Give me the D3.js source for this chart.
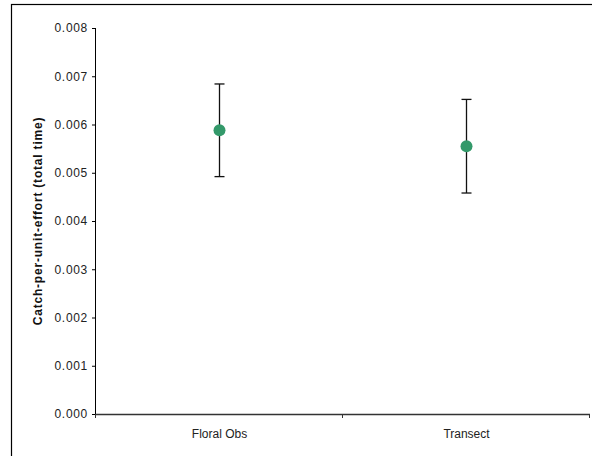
<!DOCTYPE html>
<html>
<head>
<meta charset="utf-8">
<script src="https://cdn.jsdelivr.net/npm/d3@7/dist/d3.min.js"></script>
<style>
  body { margin: 0; background: #fff; }
  svg { display: block; font-family: "Liberation Sans", Arial, sans-serif; }
</style>
</head>
<body>
<div id="chart-area"></div>
<script>
// data
const categories = ["Floral Obs", "Transect"]
const means = [0.00588, 0.00555]
const errors = [0.00096, 0.00097]
const yTicks = [0, 0.001, 0.002, 0.003, 0.004, 0.005, 0.006, 0.007, 0.008]

const MARGIN = { LEFT: 96, RIGHT: 2, TOP: 28, BOTTOM: 42 }
const WIDTH = 592 - MARGIN.LEFT - MARGIN.RIGHT
const HEIGHT = 456 - MARGIN.TOP - MARGIN.BOTTOM

const svg = d3.select("#chart-area").append("svg")
  .attr("width", 592)
  .attr("height", 456)

// outer frame (runs off the right and bottom edges)
svg.append("rect")
  .attr("x", 11.5)
  .attr("y", 4.5)
  .attr("width", 600)
  .attr("height", 500)
  .attr("fill", "none")
  .attr("stroke", "#000")
  .attr("stroke-width", 1.2)

const g = svg.append("g")
  .attr("transform", `translate(${MARGIN.LEFT}, ${MARGIN.TOP})`)

// Scales
const x = d3.scaleBand()
  .domain(categories)
  .range([0, WIDTH])
const y = d3.scaleLinear()
  .domain([0, 0.008])
  .range([HEIGHT, 0])

// Y Axis
const yAxisCall = d3.axisLeft(y)
  .tickValues(yTicks)
  .tickFormat(d3.format(".3f"))
  .tickSize(4)
  .tickPadding(4)
const yAxis = g.append("g")
  .attr("class", "y axis")
  .call(yAxisCall)
yAxis.select(".domain").attr("stroke", "#000").attr("d", `M-0.5,0V${HEIGHT}`)
yAxis.selectAll("line").attr("stroke", "#000")
yAxis.selectAll("text")
  .attr("font-size", "12px")
  .attr("letter-spacing", "0.7px")
  .attr("fill", "#222")
  .attr("font-family", "Liberation Sans, Arial, sans-serif")

// X Axis: ticks at the category boundaries
const boundaries = [0, x.bandwidth(), WIDTH]
const xAxis = g.append("g")
  .attr("class", "x axis")
  .attr("transform", `translate(0, ${HEIGHT})`)
xAxis.append("line")
  .attr("x1", 0).attr("x2", WIDTH)
  .attr("y1", 0.5).attr("y2", 0.5)
  .attr("stroke", "#333")
  .attr("stroke-width", 1.3)
xAxis.selectAll(".tick-mark")
  .data(boundaries)
  .enter().append("line")
  .attr("class", "tick-mark")
  .attr("x1", d => Math.round(d) - 0.5)
  .attr("x2", d => Math.round(d) - 0.5)
  .attr("y1", 0).attr("y2", 4)
  .attr("stroke", "#333")
xAxis.selectAll(".cat-label")
  .data(categories)
  .enter().append("text")
  .attr("class", "cat-label")
  .attr("x", d => x(d) + x.bandwidth() / 2)
  .attr("y", 24)
  .attr("text-anchor", "middle")
  .attr("font-size", "12px")
  .attr("fill", "#222")
  .text(d => d)

// Y label
g.append("text")
  .attr("transform", "rotate(-90)")
  .attr("x", -HEIGHT / 2)
  .attr("y", -54)
  .attr("text-anchor", "middle")
  .attr("font-size", "12px")
  .attr("letter-spacing", "0.8px")
  .attr("font-weight", "bold")
  .attr("fill", "#111")
  .text("Catch-per-unit-effort (total time)")

// Error bars and points
const pts = categories.map((c, i) => ({ cat: c, mean: means[i], err: errors[i] }))
const cx = d => x(d.cat) + x.bandwidth() / 2

const bars = g.selectAll(".err")
  .data(pts)
  .enter().append("g")
  .attr("class", "err")
bars.append("line")
  .attr("x1", cx).attr("x2", cx)
  .attr("y1", d => y(d.mean + d.err))
  .attr("y2", d => y(d.mean - d.err))
  .attr("stroke", "#111")
  .attr("stroke-width", 1.3)
bars.append("line")
  .attr("x1", d => cx(d) - 5).attr("x2", d => cx(d) + 5)
  .attr("y1", d => y(d.mean + d.err))
  .attr("y2", d => y(d.mean + d.err))
  .attr("stroke", "#111")
  .attr("stroke-width", 1.3)
bars.append("line")
  .attr("x1", d => cx(d) - 5).attr("x2", d => cx(d) + 5)
  .attr("y1", d => y(d.mean - d.err))
  .attr("y2", d => y(d.mean - d.err))
  .attr("stroke", "#111")
  .attr("stroke-width", 1.3)

g.selectAll("circle")
  .data(pts)
  .enter().append("circle")
  .attr("cx", cx)
  .attr("cy", d => y(d.mean))
  .attr("r", 6)
  .attr("fill", "#33996a")
</script>
</body>
</html>
